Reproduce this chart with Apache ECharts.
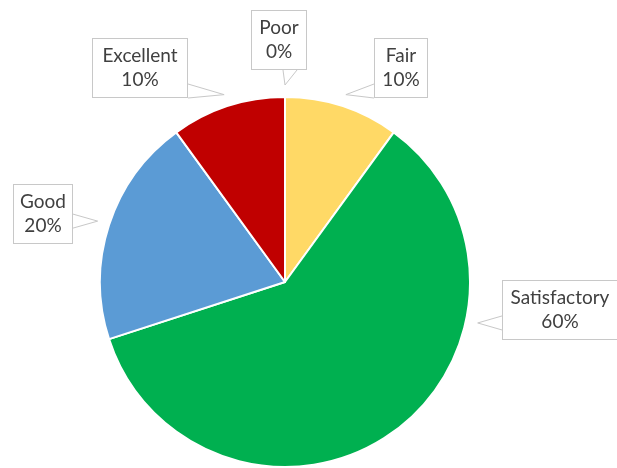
<!DOCTYPE html>
<html>
<head>
<meta charset="utf-8">
<script src="https://cdn.jsdelivr.net/npm/echarts@6/dist/echarts.min.js"></script>
<style>
  html, body { margin: 0; padding: 0; background: #ffffff; }
  #chart { width: 617px; height: 468px; }
</style>
</head>
<body>
<div id="chart"></div>
<script>
// Rating categories and their share of responses (percent)
const categories = ['Poor', 'Fair', 'Satisfactory', 'Good', 'Excellent'];
const shares = [0, 10, 60, 20, 10];

// Slice palette, in category order
const sliceColors = ['#7f7f7f', '#FFD966', '#00B050', '#5B9BD5', '#C00000'];

// Pie geometry
const pieCenter = [285, 282];
const pieRadius = 185;

// Callout boxes (left, top, width, height); tipAngle overrides the slice mid-angle
const callouts = {
  'Poor':         { x: 251, y: 10,  w: 56,  h: 60 },
  'Fair':         { x: 374, y: 38,  w: 54,  h: 60 },
  'Satisfactory': { x: 502, y: 280, w: 116, h: 60, tipAngle: 102 },
  'Good':         { x: 13,  y: 184, w: 60,  h: 60 },
  'Excellent':    { x: 92,  y: 38,  w: 96,  h: 60 }
};

const total = shares.reduce((a, b) => a + b, 0);
// mid-angle of each slice, degrees clockwise from 12 o'clock
const midAngles = [];
let acc = 0;
shares.forEach(v => {
  midAngles.push((acc + v / 2) / total * 360);
  acc += v;
});

function clamp(v, lo, hi) { return Math.max(lo, Math.min(hi, v)); }

// Builds the pointer of a callout: two edges running from the box to a tip next to the slice
function pointerFor(i) {
  const box = callouts[categories[i]];
  const ang = (box.tipAngle != null ? box.tipAngle : midAngles[i]) * Math.PI / 180;
  const d = pieRadius + 12;
  const tip = [pieCenter[0] + d * Math.sin(ang), pieCenter[1] - d * Math.cos(ang)];
  const half = 7;
  if (tip[0] < box.x) {
    const by = clamp(tip[1], box.y + half + 1, box.y + box.h - half);
    return [[box.x, by - half], tip, [box.x, by + half]];
  }
  if (tip[0] > box.x + box.w) {
    const by = clamp(tip[1], box.y + half + 1, box.y + box.h - half);
    return [[box.x + box.w, by - half], tip, [box.x + box.w, by + half]];
  }
  if (tip[1] > box.y + box.h) {
    const bx = clamp(tip[0], box.x + half + 1, box.x + box.w - half - 1);
    return [[bx - 2, box.y + box.h], tip, [bx + 2 * half - 2, box.y + box.h]];
  }
  const bx = clamp(tip[0], box.x + half + 1, box.x + box.w - half - 1);
  return [[bx - half, box.y], tip, [bx + half, box.y]];
}

const seriesData = categories.map((name, i) => ({
  name: name,
  value: shares[i],
  itemStyle: { color: sliceColors[i] },
  label: { width: callouts[name].w - 2 }
}));

const chart = echarts.init(document.getElementById('chart'), null, { renderer: 'canvas' });
chart.setOption({
  backgroundColor: '#ffffff',
  animation: false,
  series: [{
    type: 'pie',
    center: pieCenter,
    radius: pieRadius,
    startAngle: 90,
    clockwise: true,
    avoidLabelOverlap: false,
    minShowLabelAngle: 0,
    itemStyle: { borderColor: '#ffffff', borderWidth: 2 },
    emphasis: { disabled: true },
    label: {
      show: true,
      position: 'outside',
      formatter: '{b}\n{d}%',
      fontFamily: 'Lato, "Open Sans", sans-serif',
      fontSize: 19,
      lineHeight: 24,
      color: '#404040',
      align: 'center',
      backgroundColor: '#ffffff',
      borderColor: '#c8c8c8',
      borderWidth: 1,
      padding: [8, 0, 2, 0]
    },
    labelLine: {
      show: true,
      smooth: false,
      length: 10,
      length2: 10,
      lineStyle: { color: '#c8c8c8', width: 1 }
    },
    labelLayout: function (params) {
      const i = params.dataIndex;
      const box = callouts[categories[i]];
      return {
        x: box.x + box.w / 2,
        y: box.y + box.h / 2,
        align: 'center',
        verticalAlign: 'middle',
        labelLinePoints: pointerFor(i)
      };
    },
    data: seriesData
  }]
});
</script>
</body>
</html>
